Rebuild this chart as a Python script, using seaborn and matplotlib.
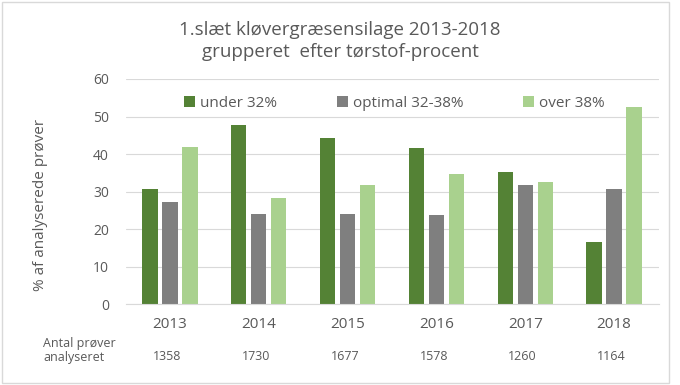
import numpy as np
import pandas as pd
import matplotlib
matplotlib.use("Agg")
import matplotlib.pyplot as plt
import matplotlib.transforms as mtransforms
from matplotlib.patches import Rectangle
import seaborn as sns

# data
years = ["2013", "2014", "2015", "2016", "2017", "2018"]
under_32 = [30.7, 47.7, 44.2, 41.5, 35.2, 16.5]
optimal_32_38 = [27.3, 24.0, 24.0, 23.7, 31.8, 30.8]
over_38 = [41.9, 28.3, 31.7, 34.6, 32.7, 52.5]
antal_proever = [1358, 1730, 1677, 1578, 1260, 1164]

series_names = ["under 32%", "optimal 32-38%", "over 38%"]
colors = ["#548235", "#7f7f7f", "#a9d18e"]

df = pd.DataFrame({
    "aar": years * 3,
    "gruppe": [series_names[0]] * 6 + [series_names[1]] * 6 + [series_names[2]] * 6,
    "pct": under_32 + optimal_32_38 + over_38,
})

sns.set_theme(style="white")
plt.rcParams["font.family"] = ["Open Sans", "DejaVu Sans"]
txt_col = "#595959"

fig = plt.figure(figsize=(6.8, 3.85), dpi=100)
ax = fig.add_axes([125.5 / 680, 1 - 304.3 / 385, 533 / 680, 225.3 / 385])

sns.barplot(data=df, x="aar", y="pct", hue="gruppe", hue_order=series_names,
            palette=colors, width=0.676, gap=0.23, saturation=1,
            edgecolor="none", ax=ax, legend=True)

ax.set_ylim(0, 60)
ax.set_yticks(range(0, 61, 10))
ax.yaxis.grid(True, color="#d9d9d9", linewidth=0.8)
ax.set_axisbelow(True)
for s in ["top", "right", "left"]:
    ax.spines[s].set_visible(False)
ax.spines["bottom"].set_color("#d9d9d9")
ax.spines["bottom"].set_linewidth(0.8)
ax.set_xlabel("")
ax.set_ylabel("")
ax.tick_params(axis="x", length=0, pad=9, labelsize=11, labelcolor=txt_col)
ax.tick_params(axis="y", length=0, pad=12, labelsize=10, labelcolor=txt_col)

# legend inside the top of the plot
handles, labels = ax.get_legend_handles_labels()
ax.legend(handles, labels, ncol=3, loc="center", bbox_to_anchor=(0.505, 0.891),
          frameon=False, fontsize=11, labelcolor=txt_col, handlelength=0.7,
          handleheight=0.7, handletextpad=0.35, columnspacing=3.9)

# title
fig.text(0.5, 1 - 30 / 385, "1.slæt kløvergræsensilage 2013-2018",
         ha="center", va="center", fontsize=13.5, color=txt_col)
fig.text(0.5, 1 - 52 / 385, "grupperet  efter tørstof-procent",
         ha="center", va="center", fontsize=13.5, color=txt_col)

# y label
fig.text(41 / 680, 1 - 205 / 385, "% af analyserede prøver", rotation=90,
         ha="center", va="center", fontsize=11, color=txt_col)

# antal prøver under hvert år
trans = mtransforms.blended_transform_factory(ax.transData, fig.transFigure)
for i, n in enumerate(antal_proever):
    ax.text(i - 0.03, 1 - 357 / 385, str(n), transform=trans, ha="center",
            va="center", fontsize=9, color=txt_col)
fig.text(43 / 680, 1 - 343 / 385, "Antal prøver", ha="left", va="center",
         fontsize=9, color=txt_col)
fig.text(43 / 680, 1 - 357 / 385, "analyseret", ha="left", va="center",
         fontsize=9, color=txt_col)

# light frame around the chart
fig.patches.append(Rectangle((2 / 680, 2 / 385), 667 / 680, 381 / 385,
                             transform=fig.transFigure, fill=False,
                             edgecolor="#d9d9d9", linewidth=1))

fig.savefig("out.png", dpi=100)
